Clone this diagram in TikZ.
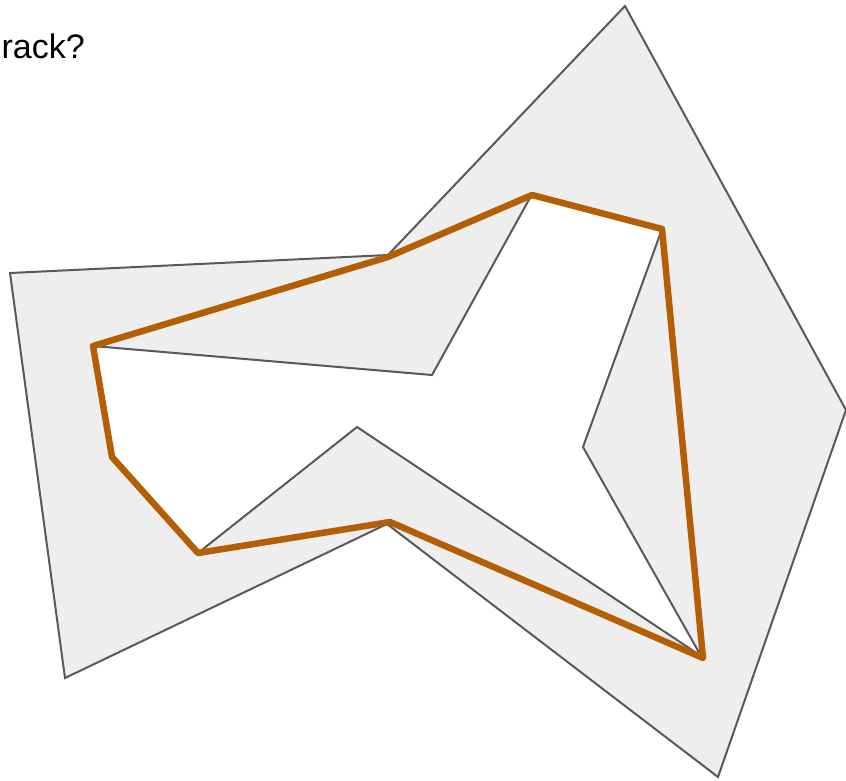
\documentclass[tikz,border=0pt]{standalone}
\usepackage{fontspec}
\setmainfont{Liberation Sans}
\definecolor{shapefill}{HTML}{EEEEEE}
\definecolor{shapeline}{HTML}{595959}
\definecolor{trackcol}{HTML}{B45F06}
\begin{document}
\begin{tikzpicture}[x=1pt,y=-1pt,
  region/.style={fill=shapefill,draw=shapeline,line width=2pt,line join=miter},
  hole/.style={fill=white,draw=shapeline,line width=2pt},
  trackline/.style={draw=trackcol,line width=6.5pt,line join=round}]
\useasboundingbox (0,0) rectangle (846,781);
% outer region
\coordinate (o1) at (10,273);
\coordinate (o2) at (388,255);
\coordinate (o3) at (625,6);
\coordinate (o4) at (846,410);
\coordinate (o5) at (718,777);
\coordinate (o6) at (387,524);
\coordinate (o7) at (65,678);
\path[region] (o1) -- (o2) -- (o3) -- (o4) -- (o5) -- (o6) -- (o7) -- cycle;
% hole
\coordinate (h1) at (93,346);
\coordinate (h2) at (432,375);
\coordinate (h3) at (531,196);
\coordinate (h4) at (662,229);
\coordinate (h5) at (583,447);
\coordinate (h6) at (701,656);
\coordinate (h7) at (357,427);
\coordinate (h8) at (198,553);
\coordinate (h9) at (112,457);
\path[hole] (h1) -- (h2) -- (h3) -- (h4) -- (h5) -- (h6) -- (h7) -- (h8) -- (h9) -- cycle;
% track
\coordinate (t1) at (93,346);
\coordinate (t2) at (388,257);
\coordinate (t3) at (532,195);
\coordinate (t4) at (662,229);
\coordinate (t5) at (703,658);
\coordinate (t6) at (390,522);
\coordinate (t7) at (198,553);
\coordinate (t8) at (112,457);
\path[trackline] (t1) -- (t2) -- (t3) -- (t4) -- (t5) -- (t6) -- (t7) -- (t8) -- cycle;
\node[anchor=base east,inner sep=0pt,font=\fontsize{34}{40}\selectfont] (q) at (85,59) {rack?};
\end{tikzpicture}
\end{document}
